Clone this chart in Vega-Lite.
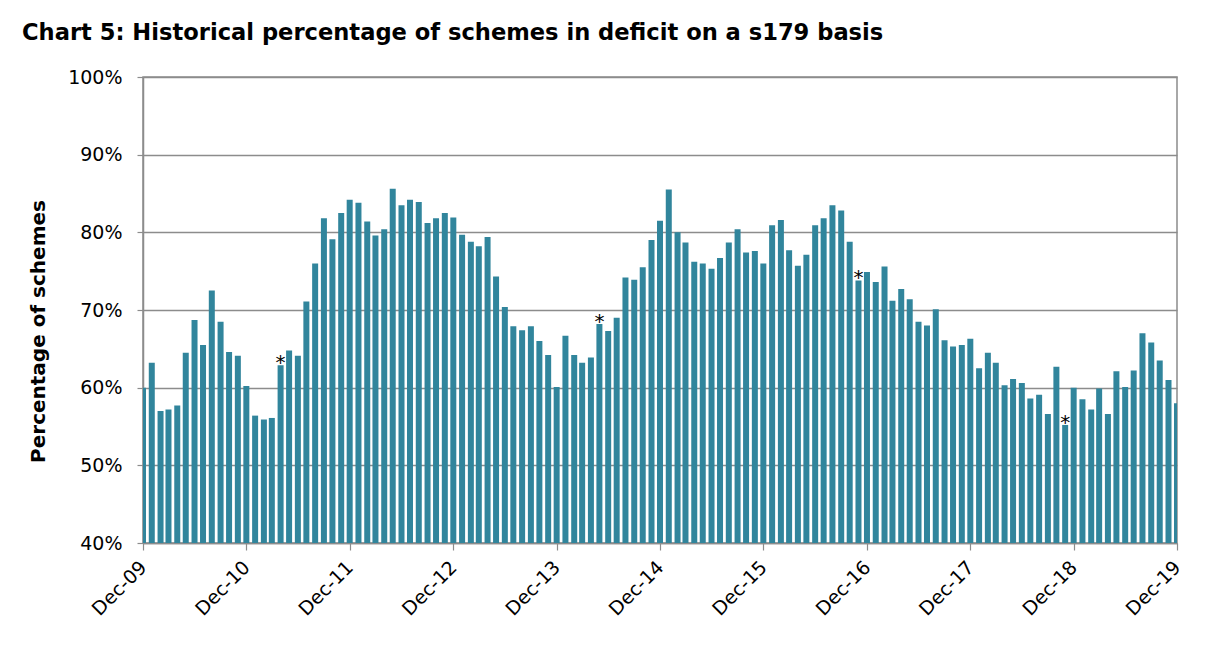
{
  "$schema": "https://vega.github.io/schema/vega-lite/v6.json",
  "autosize": {"type": "none"},
  "width": 1034,
  "height": 466,
  "padding": {"left": 143, "top": 77, "right": 39, "bottom": 106},
  "background": "white",
  "title": {
    "text": "Chart 5: Historical percentage of schemes in deficit on a s179 basis",
    "anchor": "start",
    "frame": "group",
    "dx": -121,
    "offset": 23,
    "font": "DejaVu Sans",
    "fontSize": 22.6,
    "fontWeight": "bold",
    "color": "black"
  },
  "config": {
    "view": {"stroke": "#8c8c8c", "strokeWidth": 1.5},
    "font": "DejaVu Sans"
  },
  "data": {
    "values": [
      {"month": "2009-12-01", "pct": 60.0},
      {"month": "2010-01-01", "pct": 63.2},
      {"month": "2010-02-01", "pct": 57.0},
      {"month": "2010-03-01", "pct": 57.2},
      {"month": "2010-04-01", "pct": 57.7},
      {"month": "2010-05-01", "pct": 64.5},
      {"month": "2010-06-01", "pct": 68.7},
      {"month": "2010-07-01", "pct": 65.5},
      {"month": "2010-08-01", "pct": 72.5},
      {"month": "2010-09-01", "pct": 68.5},
      {"month": "2010-10-01", "pct": 64.6},
      {"month": "2010-11-01", "pct": 64.1},
      {"month": "2010-12-01", "pct": 60.2},
      {"month": "2011-01-01", "pct": 56.4},
      {"month": "2011-02-01", "pct": 55.9},
      {"month": "2011-03-01", "pct": 56.1},
      {"month": "2011-04-01", "pct": 62.9, "note": "*"},
      {"month": "2011-05-01", "pct": 64.8},
      {"month": "2011-06-01", "pct": 64.1},
      {"month": "2011-07-01", "pct": 71.1},
      {"month": "2011-08-01", "pct": 76.0},
      {"month": "2011-09-01", "pct": 81.8},
      {"month": "2011-10-01", "pct": 79.1},
      {"month": "2011-11-01", "pct": 82.5},
      {"month": "2011-12-01", "pct": 84.2},
      {"month": "2012-01-01", "pct": 83.8},
      {"month": "2012-02-01", "pct": 81.4},
      {"month": "2012-03-01", "pct": 79.6},
      {"month": "2012-04-01", "pct": 80.4},
      {"month": "2012-05-01", "pct": 85.6},
      {"month": "2012-06-01", "pct": 83.5},
      {"month": "2012-07-01", "pct": 84.2},
      {"month": "2012-08-01", "pct": 83.9},
      {"month": "2012-09-01", "pct": 81.2},
      {"month": "2012-10-01", "pct": 81.8},
      {"month": "2012-11-01", "pct": 82.5},
      {"month": "2012-12-01", "pct": 81.9},
      {"month": "2013-01-01", "pct": 79.7},
      {"month": "2013-02-01", "pct": 78.8},
      {"month": "2013-03-01", "pct": 78.2},
      {"month": "2013-04-01", "pct": 79.4},
      {"month": "2013-05-01", "pct": 74.3},
      {"month": "2013-06-01", "pct": 70.4},
      {"month": "2013-07-01", "pct": 67.9},
      {"month": "2013-08-01", "pct": 67.4},
      {"month": "2013-09-01", "pct": 67.9},
      {"month": "2013-10-01", "pct": 66.0},
      {"month": "2013-11-01", "pct": 64.2},
      {"month": "2013-12-01", "pct": 60.1},
      {"month": "2014-01-01", "pct": 66.7},
      {"month": "2014-02-01", "pct": 64.2},
      {"month": "2014-03-01", "pct": 63.2},
      {"month": "2014-04-01", "pct": 63.9},
      {"month": "2014-05-01", "pct": 68.2, "note": "*"},
      {"month": "2014-06-01", "pct": 67.3},
      {"month": "2014-07-01", "pct": 69.0},
      {"month": "2014-08-01", "pct": 74.2},
      {"month": "2014-09-01", "pct": 73.9},
      {"month": "2014-10-01", "pct": 75.5},
      {"month": "2014-11-01", "pct": 79.0},
      {"month": "2014-12-01", "pct": 81.5},
      {"month": "2015-01-01", "pct": 85.5},
      {"month": "2015-02-01", "pct": 80.0},
      {"month": "2015-03-01", "pct": 78.7},
      {"month": "2015-04-01", "pct": 76.2},
      {"month": "2015-05-01", "pct": 76.0},
      {"month": "2015-06-01", "pct": 75.3},
      {"month": "2015-07-01", "pct": 76.7},
      {"month": "2015-08-01", "pct": 78.7},
      {"month": "2015-09-01", "pct": 80.4},
      {"month": "2015-10-01", "pct": 77.4},
      {"month": "2015-11-01", "pct": 77.6},
      {"month": "2015-12-01", "pct": 76.0},
      {"month": "2016-01-01", "pct": 80.9},
      {"month": "2016-02-01", "pct": 81.6},
      {"month": "2016-03-01", "pct": 77.7},
      {"month": "2016-04-01", "pct": 75.7},
      {"month": "2016-05-01", "pct": 77.1},
      {"month": "2016-06-01", "pct": 80.9},
      {"month": "2016-07-01", "pct": 81.8},
      {"month": "2016-08-01", "pct": 83.5},
      {"month": "2016-09-01", "pct": 82.8},
      {"month": "2016-10-01", "pct": 78.8},
      {"month": "2016-11-01", "pct": 73.8, "note": "*"},
      {"month": "2016-12-01", "pct": 74.9},
      {"month": "2017-01-01", "pct": 73.6},
      {"month": "2017-02-01", "pct": 75.6},
      {"month": "2017-03-01", "pct": 71.2},
      {"month": "2017-04-01", "pct": 72.7},
      {"month": "2017-05-01", "pct": 71.4},
      {"month": "2017-06-01", "pct": 68.5},
      {"month": "2017-07-01", "pct": 68.0},
      {"month": "2017-08-01", "pct": 70.1},
      {"month": "2017-09-01", "pct": 66.1},
      {"month": "2017-10-01", "pct": 65.3},
      {"month": "2017-11-01", "pct": 65.5},
      {"month": "2017-12-01", "pct": 66.3},
      {"month": "2018-01-01", "pct": 62.5},
      {"month": "2018-02-01", "pct": 64.5},
      {"month": "2018-03-01", "pct": 63.2},
      {"month": "2018-04-01", "pct": 60.3},
      {"month": "2018-05-01", "pct": 61.1},
      {"month": "2018-06-01", "pct": 60.6},
      {"month": "2018-07-01", "pct": 58.6},
      {"month": "2018-08-01", "pct": 59.1},
      {"month": "2018-09-01", "pct": 56.6},
      {"month": "2018-10-01", "pct": 62.7},
      {"month": "2018-11-01", "pct": 55.2, "note": "*"},
      {"month": "2018-12-01", "pct": 60.0},
      {"month": "2019-01-01", "pct": 58.5},
      {"month": "2019-02-01", "pct": 57.2},
      {"month": "2019-03-01", "pct": 59.9},
      {"month": "2019-04-01", "pct": 56.6},
      {"month": "2019-05-01", "pct": 62.1},
      {"month": "2019-06-01", "pct": 60.1},
      {"month": "2019-07-01", "pct": 62.2},
      {"month": "2019-08-01", "pct": 67.0},
      {"month": "2019-09-01", "pct": 65.8},
      {"month": "2019-10-01", "pct": 63.5},
      {"month": "2019-11-01", "pct": 61.0},
      {"month": "2019-12-01", "pct": 58.0}
    ],
    "format": {"parse": {"month": "utc:'%Y-%m-%d'"}}
  },
  "encoding": {
    "x": {
      "field": "month",
      "type": "temporal",
      "scale": {
        "type": "utc",
        "padding": 0,
        "domain": [
          {"year": 2009, "month": 12, "date": 1, "utc": true},
          {"year": 2019, "month": 12, "date": 1, "utc": true}
        ]
      },
      "axis": {
        "title": null,
        "values": [
          {"year": 2009, "month": 12, "date": 1, "utc": true},
          {"year": 2010, "month": 12, "date": 1, "utc": true},
          {"year": 2011, "month": 12, "date": 1, "utc": true},
          {"year": 2012, "month": 12, "date": 1, "utc": true},
          {"year": 2013, "month": 12, "date": 1, "utc": true},
          {"year": 2014, "month": 12, "date": 1, "utc": true},
          {"year": 2015, "month": 12, "date": 1, "utc": true},
          {"year": 2016, "month": 12, "date": 1, "utc": true},
          {"year": 2017, "month": 12, "date": 1, "utc": true},
          {"year": 2018, "month": 12, "date": 1, "utc": true},
          {"year": 2019, "month": 12, "date": 1, "utc": true}
        ],
        "format": "%b-%y",
        "labelAngle": -45,
        "labelAlign": "right",
        "labelBaseline": "middle",
        "labelFont": "DejaVu Sans",
        "labelFontSize": 19,
        "labelColor": "black",
        "labelPadding": 14,
        "labelOverlap": false,
        "labelFlush": false,
        "grid": false,
        "domainColor": "#8c8c8c",
        "domainWidth": 1.5,
        "tickColor": "#8c8c8c",
        "tickSize": 7,
        "tickWidth": 1.2
      }
    },
    "y": {
      "field": "pct",
      "type": "quantitative",
      "scale": {"domain": [40, 100], "zero": false, "nice": false},
      "axis": {
        "title": "Percentage of schemes",
        "titleFont": "DejaVu Sans",
        "titleFontSize": 20,
        "titleFontWeight": "bold",
        "titleColor": "black",
        "titleX": -105,
        "titleY": 254,
        "titleAngle": -90,
        "titleAlign": "center",
        "titleBaseline": "middle",
        "values": [40, 50, 60, 70, 80, 90, 100],
        "labelExpr": "datum.value + '%'",
        "labelFont": "DejaVu Sans",
        "labelFontSize": 19,
        "labelColor": "black",
        "labelPadding": 15,
        "grid": true,
        "gridColor": "#8c8c8c",
        "gridWidth": 1.3,
        "domainColor": "#8c8c8c",
        "domainWidth": 1.5,
        "tickColor": "#8c8c8c",
        "tickSize": 6,
        "tickWidth": 1.2
      }
    }
  },
  "layer": [
    {
      "mark": {"type": "bar", "width": 6, "color": "#31859C", "clip": true},
      "encoding": {"y2": {"datum": 40}}
    },
    {
      "transform": [{"filter": "datum.note == '*'"}],
      "mark": {"type": "text", "font": "DejaVu Sans", "fontSize": 20, "baseline": "alphabetic", "dy": 4, "color": "black"},
      "encoding": {"text": {"field": "note"}}
    }
  ]
}
